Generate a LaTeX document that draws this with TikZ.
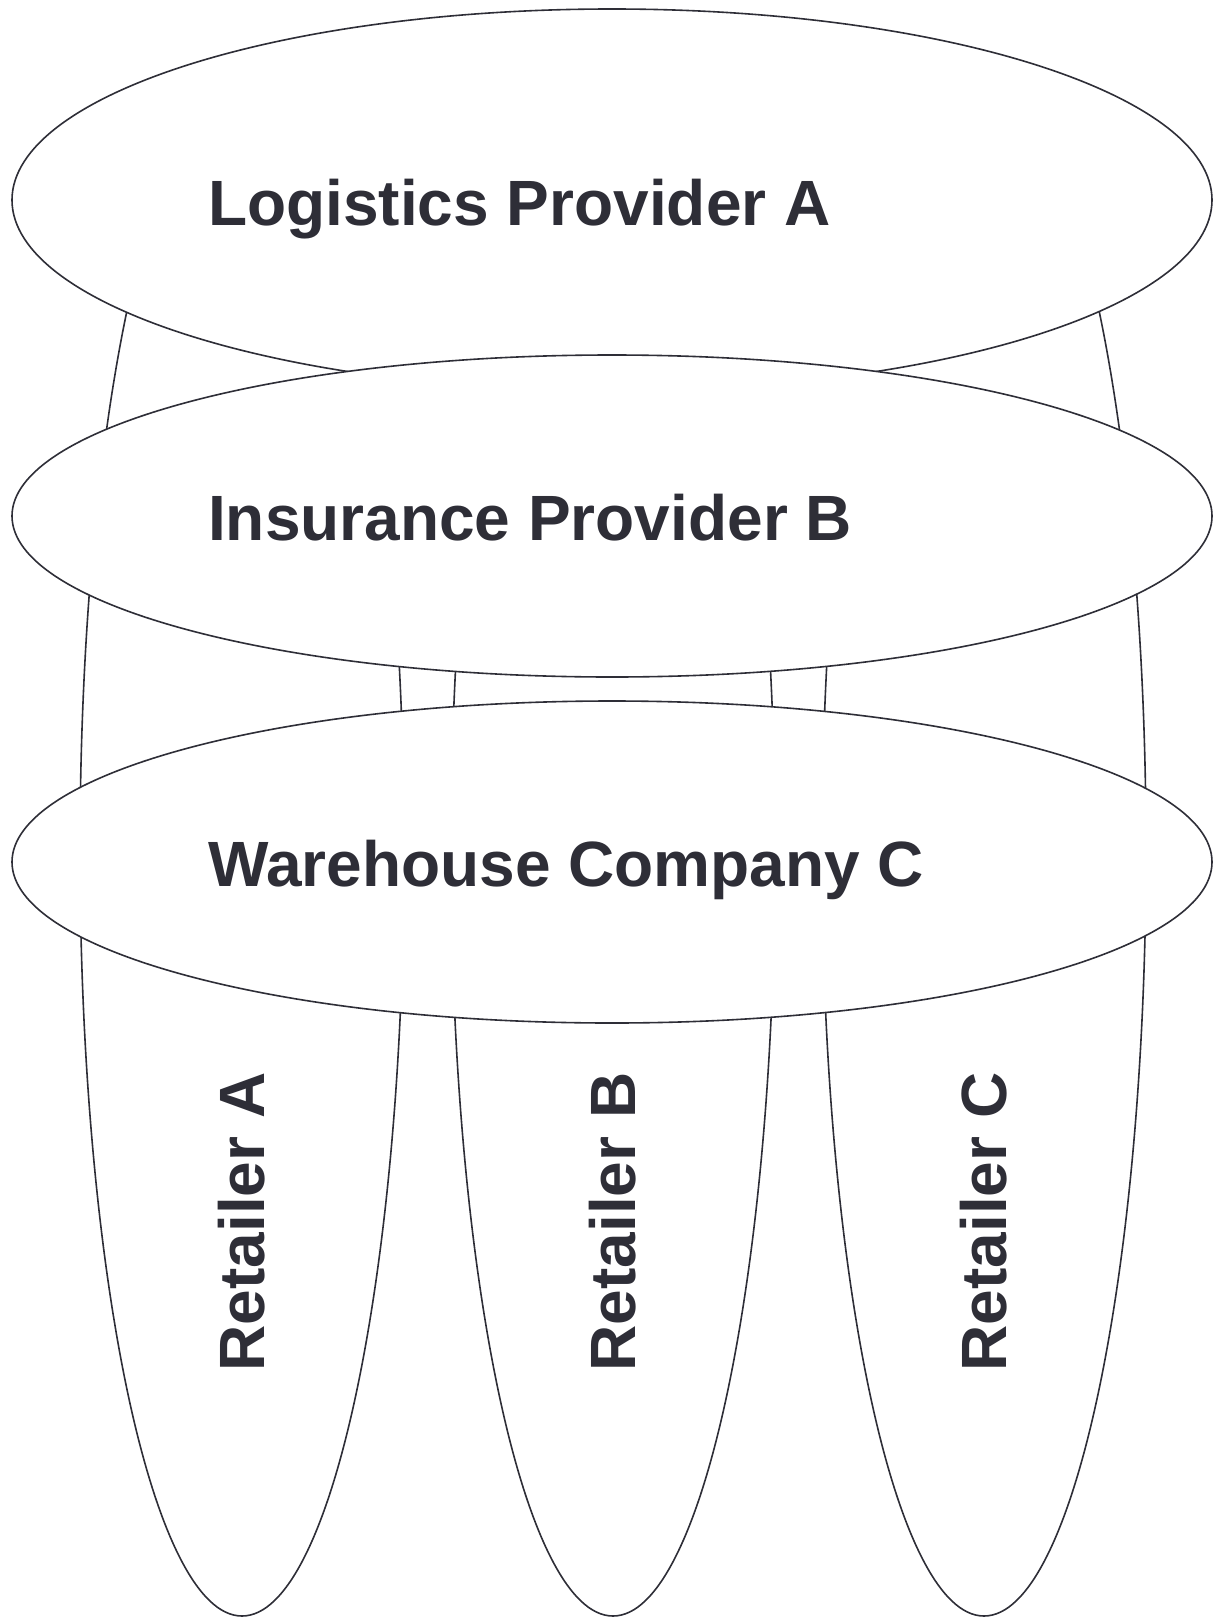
\documentclass[tikz,border=0pt]{standalone}
\usepackage{fontspec}
\setmainfont{Liberation Sans}
\usetikzlibrary{shapes.geometric}
\definecolor{ink}{HTML}{2E2E37}
\tikzset{
  shape outline/.style={draw=ink, line width=1.6pt, fill=white, inner sep=0pt, outer sep=0pt},
  retailer/.style={shape outline, ellipse, minimum width=324pt, minimum height=1532pt},
  partner/.style={shape outline, ellipse, minimum width=1200pt},
  biglabel/.style={text=ink, font=\fontsize{64}{76}\selectfont\bfseries, inner sep=0pt},
}
\begin{document}
\begin{tikzpicture}[x=1pt,y=-1pt]
\useasboundingbox (0,0) rectangle (1220,1619);
% retailers (beneath)
\node[retailer] (rA) at (242,850) {};
\node[retailer] (rB) at (613,850) {};
\node[retailer] (rC) at (984,850) {};
\node[biglabel, rotate=90] (tA) at (242,1222) {Retailer A};
\node[biglabel, rotate=90] (tB) at (613,1222) {Retailer B};
\node[biglabel, rotate=90] (tC) at (984,1222) {Retailer C};
% partners (on top)
\node[partner, minimum height=382pt] (pA) at (612,200) {};
\node[biglabel, anchor=base west] (lA) at (208,225) {Logistics Provider A};
\node[partner, minimum height=322pt] (pB) at (612,516) {};
\node[biglabel, anchor=base west] (lB) at (208,540) {Insurance Provider B};
\node[partner, minimum height=322pt] (pC) at (612,862) {};
\node[biglabel, anchor=base west] (lC) at (208,886) {Warehouse Company C};
\end{tikzpicture}
\end{document}
